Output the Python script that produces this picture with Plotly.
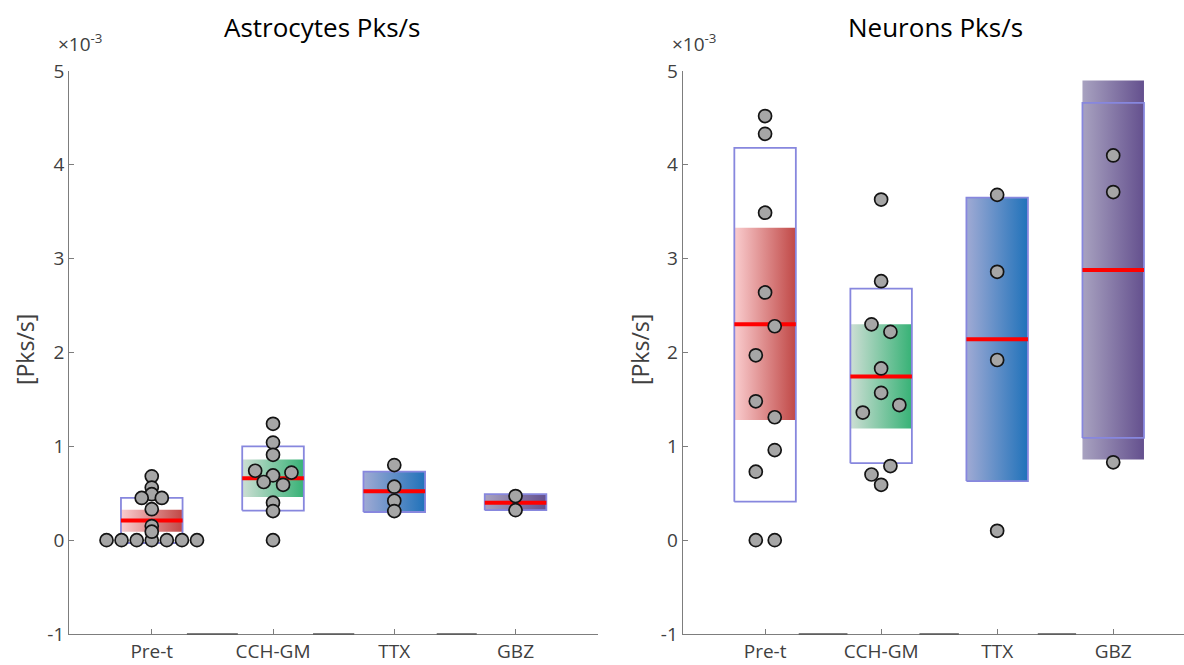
import plotly.graph_objects as go

# ---------------- data (values in units of 1e-3 Pks/s) ----------------
categories = ["Pre-t", "CCH-GM", "TTX", "GBZ"]
y_tick_values = [-1, 0, 1, 2, 3, 4, 5]
y_tick_labels = ["-1", "0", "1", "2", "3", "4", "5"]

# Astrocytes: individual points and their horizontal jitter (category units)
astro_points = [
    [0, 0, 0, 0, 0, 0, 0, 0.68, 0.56, 0.49, 0.45, 0.45, 0.33, 0.15, 0.09],
    [1.24, 1.04, 0.91, 0.74, 0.72, 0.69, 0.62, 0.59, 0.40, 0.31, 0.0],
    [0.80, 0.57, 0.42, 0.31],
    [0.47, 0.32],
]
astro_jitter = [
    [-0.373, -0.249, -0.124, 0, 0.124, 0.249, 0.373, 0, 0, 0, -0.083, 0.083, 0, 0, 0],
    [0, 0, 0, -0.147, 0.152, 0, -0.077, 0.083, 0, 0, 0],
    [0, 0, 0, 0],
    [0, 0],
]
astro_mean = [0.21, 0.66, 0.52, 0.40]
astro_ci_low = [0.09, 0.46, 0.30, 0.32]
astro_ci_high = [0.325, 0.86, 0.73, 0.49]
astro_sd_low = [-0.03, 0.315, 0.30, 0.32]
astro_sd_high = [0.45, 1.00, 0.73, 0.49]

# Neurons
neuron_points = [
    [4.52, 4.33, 3.49, 2.64, 2.28, 1.97, 1.48, 1.31, 0.96, 0.73, 0.0, 0.0],
    [3.63, 2.76, 2.30, 2.22, 1.83, 1.57, 1.44, 1.36, 0.79, 0.70, 0.59],
    [3.68, 2.86, 1.92, 0.10],
    [4.10, 3.71, 0.83],
]
neuron_jitter = [
    [0, 0, 0, 0, 0.083, -0.08, -0.08, 0.083, 0.083, -0.08, -0.08, 0.083],
    [0, 0, -0.083, 0.08, 0, 0, 0.157, -0.158, 0.08, -0.083, 0],
    [0, 0, 0, 0],
    [0, 0, 0],
]
neuron_mean = [2.30, 1.745, 2.14, 2.88]
neuron_ci_low = [1.28, 1.19, 0.63, 0.86]
neuron_ci_high = [3.33, 2.30, 3.65, 4.90]
neuron_sd_low = [0.41, 0.82, 0.63, 1.09]
neuron_sd_high = [4.18, 2.68, 3.65, 4.66]

# ---------------- style ----------------
W, H = 1184, 665
FONT = "Open Sans"
grad_colors = [
    ("rgb(250,205,207)", "rgb(192,72,70)"),
    ("rgb(205,222,212)", "rgb(55,178,118)"),
    ("rgb(160,170,212)", "rgb(32,114,186)"),
    ("rgb(168,162,192)", "rgb(100,80,142)"),
]
sd_color = "rgb(135,135,222)"
axis_color = "rgb(125,125,125)"
text_color = "rgb(64,64,64)"

fig = go.Figure()


def add_panel(xa, ya, points, jitter, mean, ci_lo, ci_hi, sd_lo, sd_hi, hw):
    for i, cat in enumerate(categories):
        c = i + 1
        # confidence patch with horizontal gradient
        fig.add_trace(go.Scatter(
            x=[c - hw, c + hw, c + hw, c - hw, c - hw],
            y=[ci_lo[i], ci_lo[i], ci_hi[i], ci_hi[i], ci_lo[i]],
            mode="lines", fill="toself", line=dict(width=0),
            fillgradient=dict(type="horizontal",
                              colorscale=[[0, grad_colors[i][0]], [1, grad_colors[i][1]]]),
            xaxis=xa, yaxis=ya, hoverinfo="skip", showlegend=False))
        # SD box outline
        fig.add_trace(go.Scatter(
            x=[c - hw, c + hw, c + hw, c - hw, c - hw],
            y=[sd_lo[i], sd_lo[i], sd_hi[i], sd_hi[i], sd_lo[i]],
            mode="lines", line=dict(color=sd_color, width=1.8),
            xaxis=xa, yaxis=ya, hoverinfo="skip", showlegend=False))
        # mean line
        fig.add_trace(go.Scatter(
            x=[c - hw, c + hw], y=[mean[i], mean[i]],
            mode="lines", line=dict(color="rgb(255,0,0)", width=4),
            xaxis=xa, yaxis=ya, hoverinfo="skip", showlegend=False))
        # points
        fig.add_trace(go.Scatter(
            x=[c + d for d in jitter[i]], y=points[i],
            mode="markers",
            marker=dict(size=13, color="rgb(166,166,166)",
                        line=dict(color="rgb(20,20,20)", width=1.7)),
            cliponaxis=False,
            xaxis=xa, yaxis=ya, hoverinfo="skip", showlegend=False))


add_panel("x", "y", astro_points, astro_jitter, astro_mean,
          astro_ci_low, astro_ci_high, astro_sd_low, astro_sd_high, 0.254)
add_panel("x2", "y2", neuron_points, neuron_jitter, neuron_mean,
          neuron_ci_low, neuron_ci_high, neuron_sd_low, neuron_sd_high, 0.265)

y_dom = [(H - 634) / H, (H - 71) / H]
left_dom = [69.3 / W, 598 / W]
right_dom = [682.7 / W, 1.0]

xaxis_common = dict(
    tickmode="array", tickvals=[1, 2, 3, 4], ticktext=categories,
    showline=True, linecolor=axis_color, linewidth=1.3,
    ticks="inside", ticklen=5, tickcolor=axis_color,
    showgrid=False, zeroline=False, automargin=False,
    tickfont=dict(family=FONT, size=19, color=text_color),
)
yaxis_common = dict(
    range=[-1, 5], tickmode="array", tickvals=y_tick_values, ticktext=y_tick_labels,
    showline=True, linecolor=axis_color, linewidth=1.3,
    ticks="inside", ticklen=5, tickcolor=axis_color,
    showgrid=False, zeroline=False, automargin=False,
    tickfont=dict(family=FONT, size=19, color=text_color),
    domain=y_dom,
)

fig.update_layout(
    width=W, height=H,
    margin=dict(l=0, r=0, t=0, b=0, pad=0),
    paper_bgcolor="white", plot_bgcolor="white",
    xaxis=dict(domain=left_dom, range=[0.32, 4.68], anchor="y", **xaxis_common),
    yaxis=dict(anchor="x", **yaxis_common),
    xaxis2=dict(domain=right_dom, range=[0.29, 4.61], anchor="y2", **xaxis_common),
    yaxis2=dict(anchor="x2", **yaxis_common),
)

# darker segments on the x axis between categories
for xa in ["x", "x2"]:
    for a, b in [(1.29, 1.71), (2.33, 2.67), (3.35, 3.68)]:
        fig.add_shape(type="line", xref=xa, yref="paper", x0=a, x1=b,
                      y0=y_dom[0], y1=y_dom[0],
                      line=dict(color="rgb(85,85,85)", width=1.6), layer="above")

annos = [
    dict(text="Astrocytes Pks/s", x=322, y=27, size=26, color="black", angle=0),
    dict(text="Neurons Pks/s", x=935, y=27, size=26, color="black", angle=0),
    dict(text="[Pks/s]", x=25, y=350, size=23, color=text_color, angle=-90),
    dict(text="[Pks/s]", x=640, y=350, size=23, color=text_color, angle=-90),
    dict(text="×10<sup>-3</sup>", x=80, y=43, size=19, color=text_color, angle=0),
    dict(text="×10<sup>-3</sup>", x=694, y=43, size=19, color=text_color, angle=0),
]
for a in annos:
    fig.add_annotation(
        text=a["text"], x=a["x"] / W, y=1 - a["y"] / H, xref="paper", yref="paper",
        showarrow=False, xanchor="center", yanchor="middle", textangle=a["angle"],
        font=dict(family=FONT, size=a["size"], color=a["color"]))

fig.write_html("out.html")
